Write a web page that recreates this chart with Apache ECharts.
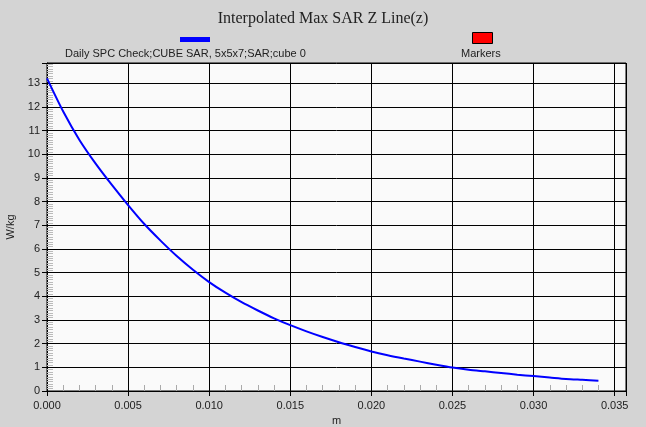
<!DOCTYPE html>
<html>
<head>
<meta charset="utf-8">
<script src="https://cdn.jsdelivr.net/npm/echarts@6/dist/echarts.min.js"></script>
<style>
  html, body { margin: 0; padding: 0; background: #d4d4d4; }
  #chart { width: 646px; height: 427px; }
</style>
</head>
<body>
<div id="chart"></div>
<script>
// z position (m) and interpolated max SAR (W/kg)
var zValues = [0, 0.001, 0.002, 0.003, 0.004, 0.005, 0.006, 0.007, 0.008, 0.009,
    0.010, 0.011, 0.012, 0.013, 0.014, 0.015, 0.016, 0.017, 0.018, 0.019,
    0.020, 0.021, 0.022, 0.023, 0.024, 0.025, 0.026, 0.027, 0.028, 0.029,
    0.030, 0.031, 0.032, 0.033, 0.034];
var sarValues = [13.2, 11.8, 10.6, 9.6, 8.7, 7.85, 7.05, 6.35, 5.7, 5.12,
    4.6, 4.15, 3.75, 3.4, 3.07, 2.78, 2.52, 2.28, 2.06, 1.86,
    1.67, 1.51, 1.37, 1.24, 1.11, 0.99, 0.9, 0.83, 0.76, 0.69,
    0.63, 0.57, 0.51, 0.47, 0.43];
var seriesName = 'Daily SPC Check;CUBE SAR, 5x5x7;SAR;cube 0';
var markerName = 'Markers';

var lineData = zValues.map(function (z, i) { return [z, sarValues[i]]; });

var labelFont = { fontFamily: 'Liberation Sans', fontSize: 11, color: '#222' };

function onStep(v, step) {
    var r = v / step;
    return Math.abs(r - Math.round(r)) < 1e-6;
}

var myChart = echarts.init(document.getElementById('chart'));
myChart.setOption({
    backgroundColor: '#d4d4d4',
    animation: false,
    title: {
        text: 'Interpolated Max SAR Z Line(z)',
        left: 'center',
        top: 6,
        textStyle: { fontFamily: 'Liberation Serif', fontSize: 16, fontWeight: 'normal', color: '#222' }
    },
    graphic: [
        { type: 'rect', left: 180, top: 37, shape: { width: 30, height: 5 }, style: { fill: '#0000ff' } },
        { type: 'text', left: 65, top: 48, style: { text: seriesName, font: '11px "Liberation Sans"', fill: '#222' } },
        { type: 'rect', left: 472, top: 32, shape: { width: 20, height: 11 }, style: { fill: '#ff0000', stroke: '#000', lineWidth: 1 } },
        { type: 'text', left: 461, top: 48, style: { text: markerName, font: '11px "Liberation Sans"', fill: '#222' } }
    ],
    grid: {
        left: 47, top: 63, right: 20, bottom: 36,
        outerBoundsMode: 'none',
        show: true, backgroundColor: '#fafafa', borderColor: '#000', borderWidth: 1
    },
    xAxis: {
        type: 'value',
        min: 0, max: 0.0357, interval: 0.005,
        name: 'm', nameLocation: 'middle', nameGap: 24,
        nameTextStyle: labelFont,
        axisLine: { show: true, lineStyle: { color: '#000' } },
        axisTick: { show: true, length: 5, lineStyle: { color: '#000' } },
        minorTick: { show: true, splitNumber: 5, length: -6, lineStyle: { color: '#aaa' } },
        splitLine: { show: true, lineStyle: { color: '#000', width: 1 } },
        axisLabel: Object.assign({
            margin: 9,
            formatter: function (v) { return onStep(v, 0.005) ? v.toFixed(3) : ''; }
        }, labelFont)
    },
    yAxis: {
        type: 'value',
        min: 0, max: 13.85, interval: 1,
        name: 'W/kg', nameLocation: 'middle', nameGap: 22, nameRotate: 90,
        nameTextStyle: labelFont,
        axisLine: { show: true, lineStyle: { color: '#000' } },
        axisTick: { show: true, length: 5, lineStyle: { color: '#000' } },
        minorTick: { show: true, splitNumber: 10, length: -6, lineStyle: { color: '#bbb' } },
        splitLine: { show: true, lineStyle: { color: '#000', width: 1 } },
        axisLabel: Object.assign({
            margin: 7,
            formatter: function (v) { return onStep(v, 1) ? String(Math.round(v)) : ''; }
        }, labelFont)
    },
    series: [
        {
            name: seriesName,
            type: 'line',
            data: lineData,
            smooth: 0.25,
            showSymbol: false,
            lineStyle: { color: '#0000ff', width: 2 },
            itemStyle: { color: '#0000ff' }
        },
        {
            name: markerName,
            type: 'scatter',
            data: [],
            itemStyle: { color: '#ff0000' }
        }
    ]
});
</script>
</body>
</html>
